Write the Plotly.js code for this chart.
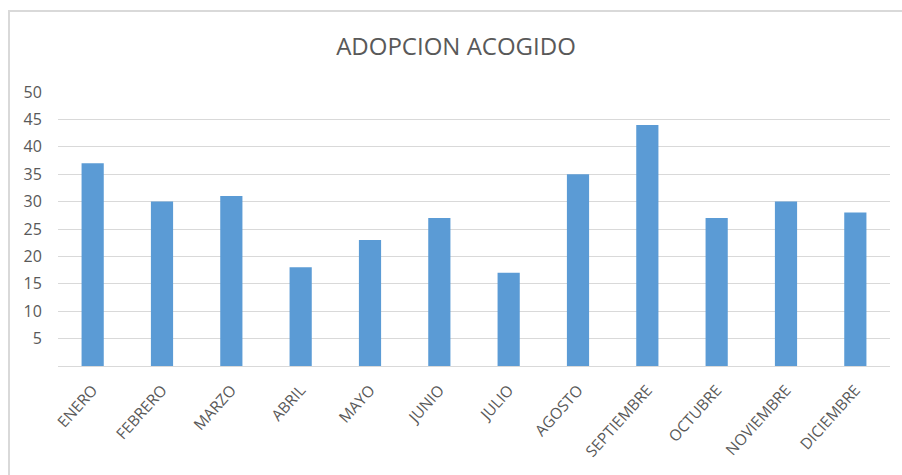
<!DOCTYPE html>
<html>
<head>
<meta charset="utf-8">
<script src="https://cdn.plot.ly/plotly-3.0.1.min.js"></script>
<style>
  body { margin: 0; background: #fff; }
  #frame { position: absolute; left: 8px; top: 10px; width: 894px; height: 465px;
           border-left: 2px solid #d9d9d9; border-top: 2px solid #d9d9d9; }
  #chart { width: 892px; height: 463px; }
</style>
</head>
<body>
<div id="frame"><div id="chart"></div></div>
<script>
var meses = ['ENERO', 'FEBRERO', 'MARZO', 'ABRIL', 'MAYO', 'JUNIO', 'JULIO',
             'AGOSTO', 'SEPTIEMBRE', 'OCTUBRE', 'NOVIEMBRE', 'DICIEMBRE'];
var adopciones = [37, 30, 31, 18, 23, 27, 17, 35, 44, 27, 30, 28];
var yTicks = [5, 10, 15, 20, 25, 30, 35, 40, 45, 50];

var trace = {
  x: meses,
  y: adopciones,
  type: 'bar',
  marker: { color: '#5b9bd5' },
  hoverinfo: 'x+y'
};

// invisible ticks, only there to push the labels away from the axes
var layout = {
  title: {
    text: 'ADOPCION ACOGIDO',
    font: { family: 'Open Sans, sans-serif', size: 24, color: '#595959' },
    x: 0.5, y: 0.925, yanchor: 'middle'
  },
  font: { family: 'Open Sans, sans-serif', color: '#595959' },
  margin: { l: 48, r: 12, t: 80, b: 109 },
  bargap: 0.68,
  showlegend: false,
  plot_bgcolor: '#fff',
  paper_bgcolor: '#fff',
  xaxis: {
    tickangle: -48,
    tickfont: { size: 15.5, color: '#595959' },
    showline: true, linecolor: '#d9d9d9', linewidth: 1,
    ticks: 'outside', ticklen: 8, tickcolor: 'rgba(0,0,0,0)'
  },
  yaxis: {
    range: [0, 50],
    tickvals: yTicks,
    ticktext: yTicks.map(String),
    tickfont: { size: 16, color: '#595959' },
    gridcolor: '#d9d9d9', gridwidth: 1,
    zeroline: false,
    ticks: 'outside', ticklen: 12, tickcolor: 'rgba(0,0,0,0)'
  }
};

Plotly.newPlot('chart', [trace], layout, { displayModeBar: false });
</script>
</body>
</html>
